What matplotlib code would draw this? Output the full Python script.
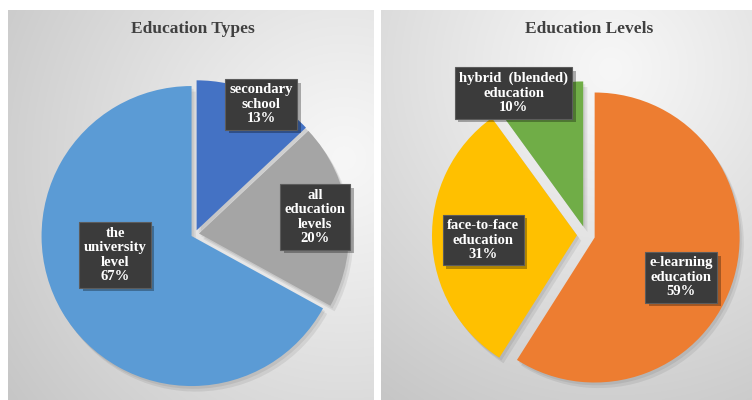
import matplotlib
matplotlib.use("Agg")
import matplotlib.pyplot as plt
import matplotlib.patheffects as pe
import numpy as np

# --- data -------------------------------------------------------------
types_labels = ["secondary\nschool", "all\neducation\nlevels", "the\nuniversity\nlevel"]
types_values = [13, 20, 67]

levels_labels = ["e-learning\neducation", "face-to-face\neducation", "hybrid  (blended)\neducation"]
levels_values = [59, 31, 10]

# --- layout (pixel space, y up) ---------------------------------------
W, H = 752, 400
TYPES_COLORS = ["#4472C4", "#A5A5A5", "#5B9BD5"]
LEVELS_COLORS = ["#ED7D31", "#FFC000", "#70AD47"]

# label placement as (fraction of radius, angle in degrees) from pie centre
TYPES_LABEL_POS = [(0.97, 62.9), (0.81, 8.0), (0.55, -165.3)]
LEVELS_LABEL_POS = [(0.72, -24.0), (0.71, 182.8), (1.10, 117.0)]

SERIF = ["Liberation Serif", "DejaVu Serif"]


def gradient_panel(ax, extent, focus, light, dark):
    """Radial grey fill behind one pie."""
    ny, nx = 200, 200
    x0, x1, y0, y1 = extent
    aspect = (x1 - x0) / (y1 - y0)
    xs = np.linspace(0, 1, nx) * aspect
    ys = np.linspace(1, 0, ny)
    gx, gy = np.meshgrid(xs, ys)
    d = np.hypot(gx - focus[0] * aspect, gy - focus[1])
    t = np.clip(d / d.max(), 0, 1) ** 1.1
    light = np.array(matplotlib.colors.to_rgb(light))
    dark = np.array(matplotlib.colors.to_rgb(dark))
    img = light[None, None, :] * (1 - t[..., None]) + dark[None, None, :] * t[..., None]
    ax.imshow(img, extent=extent, origin="upper", aspect="auto", zorder=0,
              interpolation="bilinear")


def draw_pie(ax, values, labels, colors, center, radius, explode, label_pos):
    wedges, _ = ax.pie(values, colors=colors, startangle=90, counterclock=False,
                       center=center, radius=radius,
                       explode=[explode] * len(values),
                       wedgeprops=dict(linewidth=0))
    for w in wedges:
        w.set_zorder(2)
        w.set_path_effects([
            pe.SimplePatchShadow(offset=(3, -4), shadow_rgbFace="black", alpha=0.07),
            pe.SimplePatchShadow(offset=(1.5, -2), shadow_rgbFace="black", alpha=0.07),
            pe.Normal(),
        ])
    for lab, v, (fr, ang) in zip(labels, values, label_pos):
        a = np.deg2rad(ang)
        x = center[0] + fr * radius * np.cos(a)
        y = center[1] + fr * radius * np.sin(a)
        t = ax.text(x, y, f"{lab}\n{v}%", ha="center", va="center", fontsize=10.5,
                    fontweight="bold", family=SERIF, linespacing=1.15,
                    color="white", zorder=4,
                    bbox=dict(boxstyle="square,pad=0.3", fc="#3b3b3b",
                              ec="#5c5c5c", lw=0.8))
        t.get_bbox_patch().set_path_effects([
            pe.SimplePatchShadow(offset=(2.5, -2.5), shadow_rgbFace="black", alpha=0.3),
            pe.Normal(),
        ])


fig = plt.figure(figsize=(W / 100, H / 100), dpi=100)
ax = fig.add_axes([0, 0, 1, 1])
ax.set_xlim(0, W)
ax.set_ylim(0, H)
ax.set_aspect("equal")
ax.axis("off")

gradient_panel(ax, (8, 374, 0, 390), focus=(0.92, 0.62), light="#f7f7f7", dark="#c6c6c6")
gradient_panel(ax, (381, 752, 0, 390), focus=(0.62, 0.85), light="#f7f7f7", dark="#c6c6c6")

draw_pie(ax, types_values, types_labels, TYPES_COLORS,
         center=(195, 166), radius=150, explode=4, label_pos=TYPES_LABEL_POS)
draw_pie(ax, levels_values, levels_labels, LEVELS_COLORS,
         center=(586, 165), radius=145, explode=9, label_pos=LEVELS_LABEL_POS)

ax.set_xlim(0, W)
ax.set_ylim(0, H)

ax.text(193, 371, "Education Types", ha="center", va="center", fontsize=12.5,
        fontweight="bold", family=SERIF, color="#404040", zorder=5)
ax.text(589, 371, "Education Levels", ha="center", va="center", fontsize=12.5,
        fontweight="bold", family=SERIF, color="#404040", zorder=5)

fig.savefig("out.png", dpi=100, facecolor="white")
